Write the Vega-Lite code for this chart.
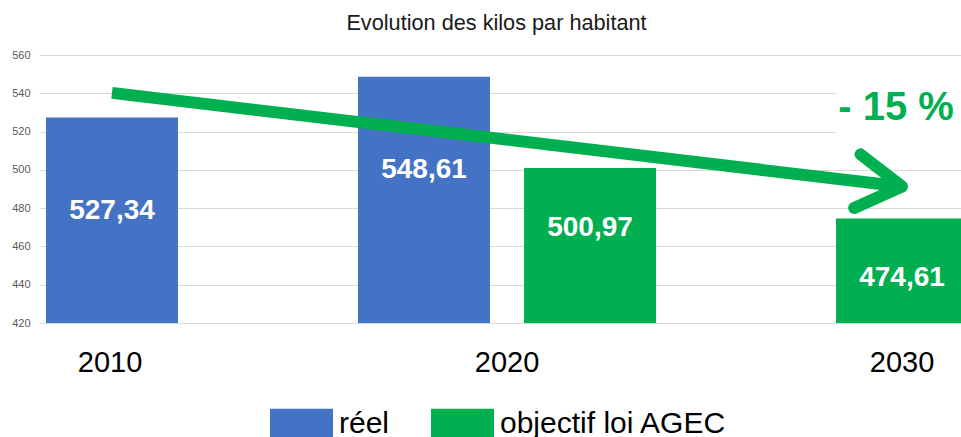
{
  "$schema": "https://vega.github.io/schema/vega-lite/v6.json",
  "width": 921,
  "height": 268,
  "autosize": {"type": "none"},
  "padding": {"left": 40, "top": 55, "right": 0, "bottom": 114},
  "background": "white",
  "config": {
    "view": {"stroke": null},
    "font": "Liberation Sans",
    "locale": {"number": {"decimal": ",", "thousands": " ", "grouping": [3], "currency": ["", " €"]}}
  },
  "title": {"text": "Evolution des kilos par habitant", "fontSize": 21.7, "fontWeight": "normal", "color": "#1a1a1a", "anchor": "middle", "offset": 14, "dx": -4},
  "datasets": {
    "bars": [
      {"year": "2010", "series": "réel", "value": 527.34},
      {"year": "2020", "series": "réel", "value": 548.61},
      {"year": "2020", "series": "objectif loi AGEC", "value": 500.97},
      {"year": "2030", "series": "objectif loi AGEC", "value": 474.61}
    ],
    "arrow": [
      {"year": "2010", "series": "réel", "value": 540.2, "part": "start"},
      {"year": "2030", "series": "objectif loi AGEC", "value": 491.3, "part": "end"}
    ],
    "note": [
      {"year": "2030", "series": "objectif loi AGEC", "value": 532.3, "label": "- 15 %"}
    ]
  },
  "encoding": {
    "x": {
      "field": "year", "type": "nominal",
      "scale": {"range": [-1, 935], "paddingInner": 0, "paddingOuter": 0},
      "axis": {
        "title": null, "domain": false, "ticks": false, "labelAngle": 0,
        "labelFontSize": 29, "labelColor": "#000000", "labelPadding": 25,
        "labelOffset": {
          "condition": [
            {"test": "datum.value == '2010'", "value": -85},
            {"test": "datum.value == '2030'", "value": 83}
          ],
          "value": 0
        }
      }
    },
    "xOffset": {
      "field": "series", "type": "nominal",
      "scale": {"domain": ["réel", "objectif loi AGEC"], "paddingInner": 0.205, "paddingOuter": 0.042}
    },
    "y": {
      "field": "value", "type": "quantitative",
      "scale": {"domain": [420, 560], "nice": false, "zero": false},
      "axis": {
        "title": null, "domain": false, "ticks": false,
        "values": [420, 440, 460, 480, 500, 520, 540, 560],
        "labelFontSize": 11, "labelColor": "#595959", "labelPadding": 10,
        "gridColor": "#d9d9d9", "gridWidth": 1
      }
    }
  },
  "layer": [
    {
      "data": {"name": "note"},
      "mark": {"type": "bar", "color": "white", "clip": true},
      "encoding": {"y": {"datum": 556}, "y2": {"datum": 512}}
    },
    {
      "data": {"name": "bars"},
      "mark": {"type": "bar", "clip": true},
      "encoding": {
        "y2": {"datum": 420},
        "color": {
          "field": "series", "type": "nominal",
          "scale": {"domain": ["réel", "objectif loi AGEC"], "range": ["#4472C4", "#00B050"]},
          "legend": {
            "title": null, "orient": "none", "legendX": 230, "legendY": 337,
            "direction": "horizontal",
            "symbolType": "M-1,-0.476H1V0.476H-1Z", "symbolSize": 3969,
            "symbolStrokeWidth": 0, "symbolOpacity": 1,
            "labelFontSize": 30, "labelColor": "#000000", "labelOffset": 6, "labelLimit": 500,
            "columnPadding": 41,
            "encode": {"symbols": {"update": {"fill": {"signal": "datum.value === 'réel' ? '#0070C0' : '#00B050'"}}}}
          }
        }
      }
    },
    {
      "data": {"name": "bars"},
      "transform": [{"filter": "datum.series === 'réel'"}],
      "mark": {"type": "text", "color": "white", "fontWeight": "bold", "fontSize": 28, "baseline": "middle", "dy": 93},
      "encoding": {"text": {"field": "value", "type": "quantitative", "format": ".2f"}}
    },
    {
      "data": {"name": "bars"},
      "transform": [{"filter": "datum.series !== 'réel'"}],
      "mark": {"type": "text", "color": "white", "fontWeight": "bold", "fontSize": 28, "baseline": "middle", "dy": 60},
      "encoding": {"text": {"field": "value", "type": "quantitative", "format": ".2f"}}
    },
    {
      "data": {"name": "arrow"},
      "mark": {"type": "line", "color": "#00B050", "strokeWidth": 12, "strokeCap": "butt"},
      "encoding": {}
    },
    {
      "data": {"name": "arrow"},
      "transform": [{"filter": "datum.part === 'end'"}],
      "mark": {"type": "point", "shape": "M-1,-0.6L0,0L-1,0.6", "size": 8100, "filled": false, "stroke": "#00B050", "strokeWidth": 12, "strokeCap": "round", "strokeJoin": "round", "angle": 6.8, "opacity": 1},
      "encoding": {}
    },
    {
      "data": {"name": "note"},
      "mark": {"type": "text", "color": "#00B050", "fontWeight": "bold", "fontSize": 40, "baseline": "middle", "dx": -6},
      "encoding": {"text": {"field": "label"}}
    }
  ]
}
